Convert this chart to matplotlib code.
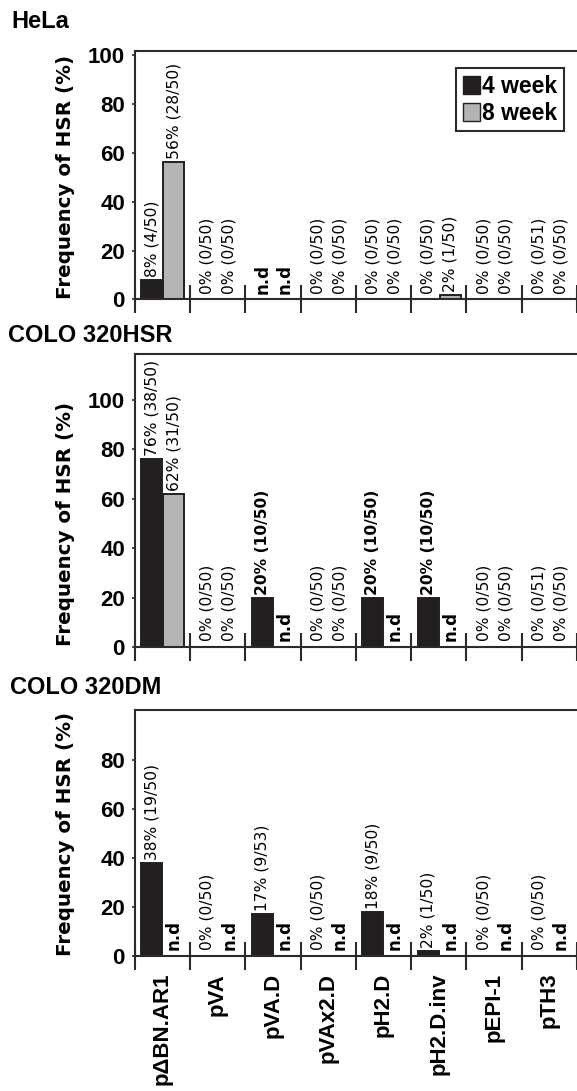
import numpy as np
import matplotlib
matplotlib.use('Agg')
import matplotlib.pyplot as plt
from matplotlib.patches import Patch

# --- data ---------------------------------------------------------------
constructs = ['p\u0394BN.AR1', 'pVA', 'pVA.D', 'pVAx2.D',
              'pH2.D', 'pH2.D.inv', 'pEPI-1', 'pTH3']
ND = np.nan  # n.d = not determined

hela_4wk = [8, 0, ND, 0, 0, 0, 0, 0]
hela_8wk = [56, 0, ND, 0, 0, 2, 0, 0]
hela_4wk_txt = ['8% (4/50)', '0% (0/50)', 'n.d', '0% (0/50)',
                '0% (0/50)', '0% (0/50)', '0% (0/50)', '0% (0/51)']
hela_8wk_txt = ['56% (28/50)', '0% (0/50)', 'n.d', '0% (0/50)',
                '0% (0/50)', '2% (1/50)', '0% (0/50)', '0% (0/50)']

hsr_4wk = [76, 0, 20, 0, 20, 20, 0, 0]
hsr_8wk = [62, 0, ND, 0, ND, ND, 0, 0]
hsr_4wk_txt = ['76% (38/50)', '0% (0/50)', '20% (10/50)', '0% (0/50)',
               '20% (10/50)', '20% (10/50)', '0% (0/50)', '0% (0/51)']
hsr_8wk_txt = ['62% (31/50)', '0% (0/50)', 'n.d', '0% (0/50)',
               'n.d', 'n.d', '0% (0/50)', '0% (0/50)']

dm_4wk = [38, 0, 17, 0, 18, 2, 0, 0]
dm_8wk = [ND, ND, ND, ND, ND, ND, ND, ND]
dm_4wk_txt = ['38% (19/50)', '0% (0/50)', '17% (9/53)', '0% (0/50)',
              '18% (9/50)', '2% (1/50)', '0% (0/50)', '0% (0/50)']
dm_8wk_txt = ['n.d'] * 8

series_names = ['4 week', '8 week']

# --- style ---------------------------------------------------------------
DARK = '#231f20'
GRAY = '#b5b5b5'
LINE = '#2b2b2b'
plt.rcParams['font.family'] = ['Liberation Sans', 'DejaVu Sans']
plt.rcParams['font.weight'] = 'bold'

fig = plt.figure(figsize=(5.77, 10.91), dpi=100)


def draw_panel(ax, v4, v8, t4, t8, ytop, yticks, bold_pct=False, xlabels=False):
    x = np.arange(len(constructs))
    for off, vals, txts, col in ((0.31, v4, t4, DARK), (0.71, v8, t8, GRAY)):
        v = np.array(vals, dtype=float)
        keep = ~np.isnan(v) & (v > 0)
        ax.bar(x[keep] + off, v[keep], width=0.38, color=col,
               edgecolor=DARK, linewidth=1.4, zorder=2)
        for xi, vi, t in zip(x, v, txts):
            base = 0 if np.isnan(vi) else vi
            pad = 2.2 if base > 0 else 4.3
            if t == 'n.d':
                size, weight = 12, 'bold'
            else:
                size = 11.2
                weight = 'bold' if (bold_pct and t.startswith('20%')) else 'normal'
            ax.annotate(t, (xi + off, base), xytext=(0, pad),
                        textcoords='offset points', rotation=90,
                        ha='center', va='bottom', fontsize=size,
                        fontweight=weight, family='DejaVu Sans',
                        annotation_clip=False, zorder=3)

    ax.set_xlim(0, len(constructs))
    ax.set_ylim(0, ytop)
    ax.set_xticks(np.arange(len(constructs) + 1))
    ax.set_xticklabels([])
    ax.tick_params(axis='x', which='major', direction='inout', length=20,
                   width=1.5, color=LINE)
    ax.set_xticks(x + 0.5, minor=True)
    if xlabels:
        ax.set_xticklabels(constructs, minor=True, rotation=90,
                           fontsize=16, fontweight='bold')
    ax.tick_params(axis='x', which='minor', length=0, pad=12)
    ax.set_yticks(yticks)
    ax.tick_params(axis='y', length=2, width=1.2, pad=5, labelsize=16,
                   color=LINE)
    for s in ('left', 'top', 'bottom'):
        ax.spines[s].set_linewidth(1.5)
        ax.spines[s].set_color(LINE)
    ax.spines['right'].set_visible(False)
    ax.set_ylabel('Frequency of HSR (%)', family='DejaVu Sans',
                  fontsize=14.3, fontweight='bold', va='center')
    ax.yaxis.set_label_coords(-0.156, 50 / ytop)


left = 134.6 / 577
width = 1 - left

ax1 = fig.add_axes([left, 0.7255, width, 0.2280])
draw_panel(ax1, hela_4wk, hela_8wk, hela_4wk_txt, hela_8wk_txt,
           101.6, [0, 20, 40, 60, 80, 100])
ax2 = fig.add_axes([left, 0.4070, width, 0.2683])
draw_panel(ax2, hsr_4wk, hsr_8wk, hsr_4wk_txt, hsr_8wk_txt,
           118.5, [0, 20, 40, 60, 80, 100], bold_pct=True)
ax3 = fig.add_axes([left, 0.1237, width, 0.2255])
draw_panel(ax3, dm_4wk, dm_8wk, dm_4wk_txt, dm_8wk_txt,
           100.4, [0, 20, 40, 60, 80], xlabels=True)

# panel titles
fig.text(11 / 577, 1 - 21.7 / 1091, 'HeLa', fontsize=17, fontweight='bold',
         ha='left', va='center')
fig.text(8 / 577, 1 - 335 / 1091, 'COLO 320HSR', fontsize=17,
         fontweight='bold', ha='left', va='center')
fig.text(10 / 577, 1 - 688 / 1091, 'COLO 320DM', fontsize=17,
         fontweight='bold', ha='left', va='center')

handles = [Patch(facecolor=DARK, edgecolor=DARK, linewidth=1.0),
           Patch(facecolor=GRAY, edgecolor=DARK, linewidth=1.0)]
leg = ax1.legend(handles, series_names, loc='upper right',
                 bbox_to_anchor=(563.6 / 577, 1 - 68.3 / 1091),
                 bbox_transform=fig.transFigure, fancybox=False,
                 edgecolor=LINE, framealpha=1, borderpad=0.3,
                 labelspacing=0.15, handlelength=0.75, handleheight=0.85,
                 handletextpad=0.05, borderaxespad=0,
                 prop={'family': 'Liberation Sans', 'weight': 'bold', 'size': 16.5})
leg.get_frame().set_linewidth(1.5)

fig.savefig('out.png', dpi=100)
